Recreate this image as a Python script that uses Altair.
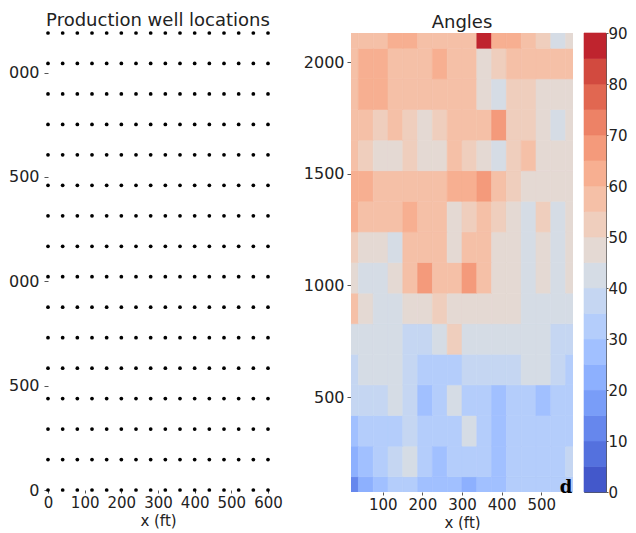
import altair as alt
import pandas as pd

# ---------------- data ----------------
WELL_X = [0, 40, 80, 120, 160, 200, 240, 280, 320, 360, 400, 440, 480, 520, 560, 600]
WELL_Y = [0, 146, 292, 438, 584, 730, 876, 1022, 1168, 1314, 1460, 1606, 1752, 1898, 2044, 2190]

GRID_X = [20.0, 57.3, 94.7, 132.0, 169.3, 206.7, 244.0, 281.3, 318.7, 356.0,
          393.3, 430.7, 468.0, 505.3, 542.7, 580.0]
GRID_Y = [75, 212, 349, 486, 623, 760, 897, 1034, 1171, 1308, 1445, 1582,
          1719, 1856, 1993, 2130]

# angle (deg) at each grid node, rows from bottom (GRID_Y[0]) to top
ANGLES = [
    [10, 22, 28, 30, 30, 26, 27, 25, 22, 28, 25, 30, 30, 30, 30, 30],
    [24, 28, 32, 35, 40, 33, 28, 32, 30, 30, 27, 32, 32, 30, 32, 35],
    [28, 30, 33, 31, 35, 34, 33, 33, 42, 33, 28, 32, 33, 30, 33, 33],
    [35, 38, 38, 40, 35, 28, 34, 42, 30, 33, 28, 32, 33, 28, 32, 32],
    [37, 42, 43, 42, 36, 33, 33, 33, 36, 36, 35, 36, 42, 42, 35, 33],
    [40, 42, 43, 42, 38, 38, 40, 50, 43, 42, 42, 40, 43, 43, 38, 36],
    [55, 48, 43, 43, 46, 48, 50, 48, 48, 47, 46, 45, 44, 44, 44, 44],
    [46, 43, 43, 45, 57, 66, 58, 57, 66, 55, 48, 47, 44, 47, 44, 45],
    [50, 47, 46, 43, 55, 58, 55, 45, 57, 55, 48, 47, 42, 47, 43, 46],
    [60, 57, 57, 55, 63, 55, 55, 48, 52, 55, 50, 48, 43, 52, 44, 47],
    [60, 62, 57, 55, 55, 55, 58, 60, 62, 66, 57, 50, 46, 48, 47, 47],
    [57, 53, 47, 48, 53, 48, 48, 55, 52, 48, 44, 50, 58, 48, 48, 48],
    [59, 55, 53, 55, 53, 48, 50, 55, 55, 57, 65, 53, 50, 48, 44, 48],
    [57, 60, 62, 57, 55, 55, 55, 55, 58, 48, 44, 53, 52, 48, 48, 48],
    [55, 62, 62, 57, 57, 57, 64, 57, 55, 48, 50, 59, 57, 55, 55, 55],
    [57, 57, 57, 60, 63, 57, 57, 55, 57, 86, 62, 60, 55, 52, 43, 48],
]

LEVELS = [0, 5, 10, 15, 20, 25, 30, 35, 40, 45, 50, 55, 60, 65, 70, 75, 80, 85, 90]
CBAR_TICKS = [0, 10, 20, 30, 40, 50, 60, 70, 80, 90]
LEFT_X_TICKS = [0, 100, 200, 300, 400, 500, 600]
LEFT_Y_TICKS = [0, 500, 1000, 1500, 2000]
RIGHT_X_TICKS = [100, 200, 300, 400, 500]
RIGHT_Y_TICKS = [500, 1000, 1500, 2000]
PANEL_LABEL = ["d"]

# ---------------- colour map (matplotlib coolwarm) ----------------
CW = [
    (0.0, (0.2298057, 0.298717966, 0.753683153)),
    (0.03125, (0.26623388, 0.353094838, 0.801466763)),
    (0.0625, (0.30386891, 0.406535296, 0.84495867)),
    (0.09375, (0.342804478, 0.458757618, 0.883725899)),
    (0.125, (0.38301334, 0.50941904, 0.917387822)),
    (0.15625, (0.424369608, 0.558148092, 0.945619588)),
    (0.1875, (0.46666708, 0.604562568, 0.968154911)),
    (0.21875, (0.509635204, 0.648280772, 0.98478814)),
    (0.25, (0.552953156, 0.688929332, 0.995375608)),
    (0.28125, (0.596262162, 0.726149107, 0.999836203)),
    (0.3125, (0.639176211, 0.759599947, 0.998151185)),
    (0.34375, (0.681291281, 0.788964712, 0.990363227)),
    (0.375, (0.722193294, 0.813952739, 0.976574709)),
    (0.40625, (0.761464949, 0.834302879, 0.956945269)),
    (0.4375, (0.798691636, 0.849786142, 0.931688648)),
    (0.46875, (0.833466556, 0.860207984, 0.901068838)),
    (0.5, (0.865395197, 0.86541021, 0.865395561)),
    (0.53125, (0.897787179, 0.848937047, 0.820880546)),
    (0.5625, (0.924127593, 0.827384882, 0.774508472)),
    (0.59375, (0.944468518, 0.800927443, 0.726736146)),
    (0.625, (0.958852946, 0.769767752, 0.678007945)),
    (0.65625, (0.96732803, 0.734132809, 0.628751763)),
    (0.6875, (0.969954137, 0.694266682, 0.579375448)),
    (0.71875, (0.966811177, 0.650421156, 0.530263762)),
    (0.75, (0.958003065, 0.602842431, 0.481775914)),
    (0.78125, (0.943660866, 0.551750968, 0.434243684)),
    (0.8125, (0.923944917, 0.49730856, 0.387970225)),
    (0.84375, (0.89904617, 0.439559467, 0.343229596)),
    (0.875, (0.869186849, 0.378313092, 0.300267182)),
    (0.90625, (0.834620542, 0.312874446, 0.259301199)),
    (0.9375, (0.795631745, 0.24128379, 0.220525627)),
    (0.96875, (0.752534934, 0.157246067, 0.184115123)),
    (1.0, (0.705673158, 0.01555616, 0.150232812)),
]


def coolwarm(t):
    for (t0, c0), (t1, c1) in zip(CW[:-1], CW[1:]):
        if t0 <= t <= t1:
            f = (t - t0) / (t1 - t0)
            rgb = [a + (b - a) * f for a, b in zip(c0, c1)]
            return "#" + "".join(f"{round(v * 255):02x}" for v in rgb)
    return "#000000"


vmin, vmax = LEVELS[0], LEVELS[-1]
COLORS = [coolwarm(((lo + hi) / 2 - vmin) / (vmax - vmin)) for lo, hi in zip(LEVELS[:-1], LEVELS[1:])]
THRESH = LEVELS[1:-1]
color_scale = alt.Scale(type="threshold", domain=THRESH, range=COLORS)

# ---------------- tables ----------------
wells = pd.DataFrame([(x, y) for y in WELL_Y for x in WELL_X], columns=["x", "y"])

dx = (GRID_X[-1] - GRID_X[0]) / (len(GRID_X) - 1) / 2
dy = (GRID_Y[-1] - GRID_Y[0]) / (len(GRID_Y) - 1) / 2
rows = []
for j, gy in enumerate(GRID_Y):
    for k, gx in enumerate(GRID_X):
        rows.append({"x0": gx - dx, "x1": gx + dx, "y0": gy - dy, "y1": gy + dy,
                     "angle": ANGLES[j][k]})
cells = pd.DataFrame(rows)

bands = pd.DataFrame({"lo": LEVELS[:-1], "hi": LEVELS[1:]})

# ---------------- charts ----------------
left = alt.Chart(wells).mark_circle(size=14, color="black", opacity=1).encode(
    x=alt.X("x:Q", scale=alt.Scale(domain=[0, 600], nice=False, zero=False),
            axis=alt.Axis(values=LEFT_X_TICKS, title="x (ft)", labelOverlap=False,
                          labelFlush=False)),
    y=alt.Y("y:Q", scale=alt.Scale(domain=[0, 2190], nice=False, zero=False),
            axis=alt.Axis(values=LEFT_Y_TICKS, title=None, format="d",
                          labelExpr="slice(datum.label, -3)", labelPadding=5)),
).properties(width=220, height=457, title="Production well locations")

contour = alt.Chart(cells).mark_rect(clip=True, strokeWidth=0.6).encode(
    x=alt.X("x0:Q", scale=alt.Scale(domain=[GRID_X[0], GRID_X[-1]], nice=False, zero=False),
            axis=alt.Axis(values=RIGHT_X_TICKS, title="x (ft)", labelFlush=False)),
    x2="x1:Q",
    y=alt.Y("y0:Q", scale=alt.Scale(domain=[GRID_Y[0], GRID_Y[-1]], nice=False, zero=False),
            axis=alt.Axis(values=RIGHT_Y_TICKS, title=None, format="d")),
    y2="y1:Q",
    color=alt.Color("angle:Q", scale=color_scale, legend=None),
    stroke=alt.Stroke("angle:Q", scale=color_scale, legend=None),
)

dlabel = alt.Chart(pd.DataFrame({"t": PANEL_LABEL})).mark_text(
    font="DejaVu Serif", fontWeight="bold", fontSize=18, align="center",
    baseline="alphabetic", color="black"
).encode(x=alt.value(215), y=alt.value(460), text="t:N")

right = alt.layer(contour, dlabel).properties(width=222, height=459, title="Angles")

colorbar = alt.Chart(bands).mark_rect(strokeWidth=0.6).encode(
    x=alt.value(0), x2=alt.value(22),
    y=alt.Y("lo:Q", scale=alt.Scale(domain=[vmin, vmax], nice=False, zero=False),
            axis=alt.Axis(orient="right", values=CBAR_TICKS, title=None, tickSize=2,
                          labelPadding=0, labelFlush=False, labelFontSize=15)),
    y2="hi:Q",
    color=alt.Color("lo:Q", scale=color_scale, legend=None),
    stroke=alt.Stroke("lo:Q", scale=color_scale, legend=None),
).properties(width=22, height=459, view=alt.ViewBackground(stroke="#555555", strokeWidth=1))

inner = alt.hconcat(right, colorbar, spacing=11, bounds="flush")
chart = alt.hconcat(left, inner, spacing=83, bounds="flush").properties(
    padding={"left": 0, "top": 4, "right": 0, "bottom": 0}
).configure_view(strokeWidth=0).configure_axis(
    domain=False, grid=False,
    labelFont="DejaVu Sans", labelFontSize=16, labelColor="#222222",
    titleFont="DejaVu Sans", titleFontSize=16, titleFontWeight="normal", titleColor="#222222",
    tickColor="#555555", tickSize=4, labelPadding=3, titlePadding=1,
).configure_axisX(
    labelFontSize=15, titleFontSize=15, tickSize=3, labelPadding=2, titlePadding=3
).configure_title(
    font="DejaVu Sans", fontSize=18, fontWeight="normal", color="#222222", offset=1
).resolve_scale(color="shared")

chart.save("out.html", embed_options={"renderer": "svg", "actions": False})
